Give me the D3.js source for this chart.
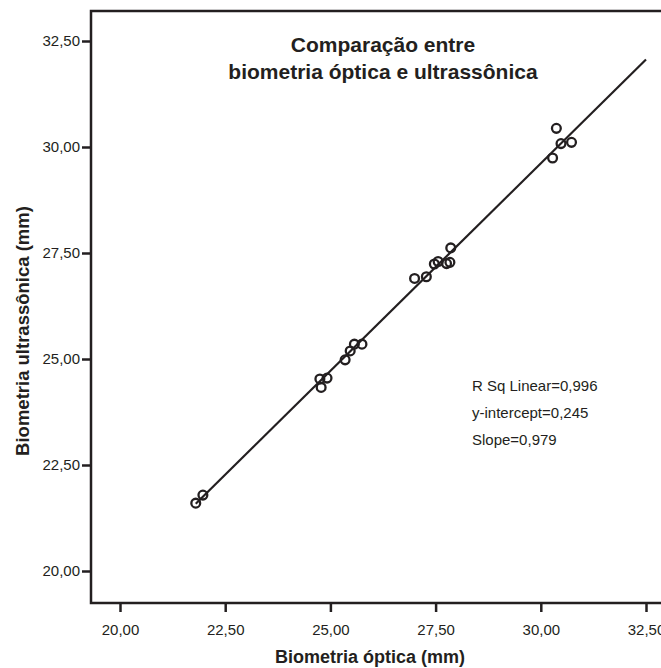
<!DOCTYPE html>
<html><head><meta charset="utf-8">
<script src="https://cdn.jsdelivr.net/npm/d3@7"></script>
<style>body{margin:0;background:#fff}svg{display:block;font-family:Arial,"Liberation Sans",sans-serif}</style>
</head><body>
<svg id="c" width="661" height="668"></svg>
<script>
const opticX = [21.80,21.97,24.75,24.92,24.78,25.35,25.47,25.57,25.75,27.00,27.28,27.47,27.56,27.76,27.84,27.86,30.28,30.37,30.48,30.73];
const ultraY = [21.60,21.79,24.53,24.55,24.33,24.98,25.19,25.35,25.35,26.90,26.94,27.24,27.30,27.25,27.28,27.62,29.74,30.44,30.08,30.11];
const tickValues = [20,22.5,25,27.5,30,32.5];
const fitIntercept = 0.245, fitSlope = 0.979;
const fitRange = [21.80, 32.5];
const titleLines = ["Comparação entre","biometria óptica e ultrassônica"];
const annotLines = ["R Sq Linear=0,996","y-intercept=0,245","Slope=0,979"];
const xTitle = "Biometria óptica (mm)", yTitle = "Biometria ultrassônica (mm)";

const svg = d3.select("#c");
const ink = "#231f20";
const F = "Arial,'Liberation Sans',sans-serif";
const L=91, T=11, B=603, R=700;
const x = d3.scaleLinear().domain([20,32.5]).range([120,646]);
const y = d3.scaleLinear().domain([20,32.5]).range([571,41]);
const fmt = d => d.toFixed(2).replace(".",",");

svg.append("path").attr("d",`M${R},${T}H${L}V${B}H${R}`).attr("fill","none").attr("stroke",ink).attr("stroke-width",2.5);

const xa = svg.append("g").attr("transform",`translate(0,${B})`)
  .call(d3.axisBottom(x).tickValues(tickValues).tickFormat(fmt).tickSize(9).tickPadding(12));
const ya = svg.append("g").attr("transform",`translate(${L},0)`)
  .call(d3.axisLeft(y).tickValues(tickValues).tickFormat(fmt).tickSize(9).tickPadding(2));
[xa,ya].forEach(a=>{
  a.select(".domain").remove();
  a.selectAll(".tick line").attr("stroke",ink).attr("stroke-width",2.5);
  a.selectAll("text").attr("fill",ink).attr("font-size",15).attr("font-family",F);
});

svg.append("line")
  .attr("x1",x(fitRange[0])).attr("y1",y(fitIntercept+fitSlope*fitRange[0]))
  .attr("x2",x(fitRange[1])).attr("y2",y(fitIntercept+fitSlope*fitRange[1]))
  .attr("stroke",ink).attr("stroke-width",2.2);

svg.append("g").selectAll("circle").data(opticX).join("circle")
  .attr("cx",d=>x(d)).attr("cy",(d,i)=>y(ultraY[i])).attr("r",4.4)
  .attr("fill","none").attr("stroke",ink).attr("stroke-width",2.3);

svg.append("text").attr("x",383).attr("y",52).attr("text-anchor","middle")
  .attr("font-size",21).attr("font-weight","bold").attr("fill",ink)
  .selectAll("tspan").data(titleLines).join("tspan")
  .attr("x",383).attr("dy",(d,i)=>i?27:0).text(d=>d);

svg.append("g").selectAll("text").data(annotLines).join("text")
  .attr("x",472).attr("y",(d,i)=>391+i*27).attr("font-size",15).attr("fill",ink).text(d=>d);

svg.append("text").attr("x",370).attr("y",663).attr("text-anchor","middle")
  .attr("font-size",18).attr("font-weight","bold").attr("fill",ink).text(xTitle);
svg.append("text").attr("transform","translate(29,331) rotate(-90)").attr("text-anchor","middle")
  .attr("font-size",18.5).attr("font-weight","bold").attr("fill",ink).text(yTitle);
</script>
</body></html>
